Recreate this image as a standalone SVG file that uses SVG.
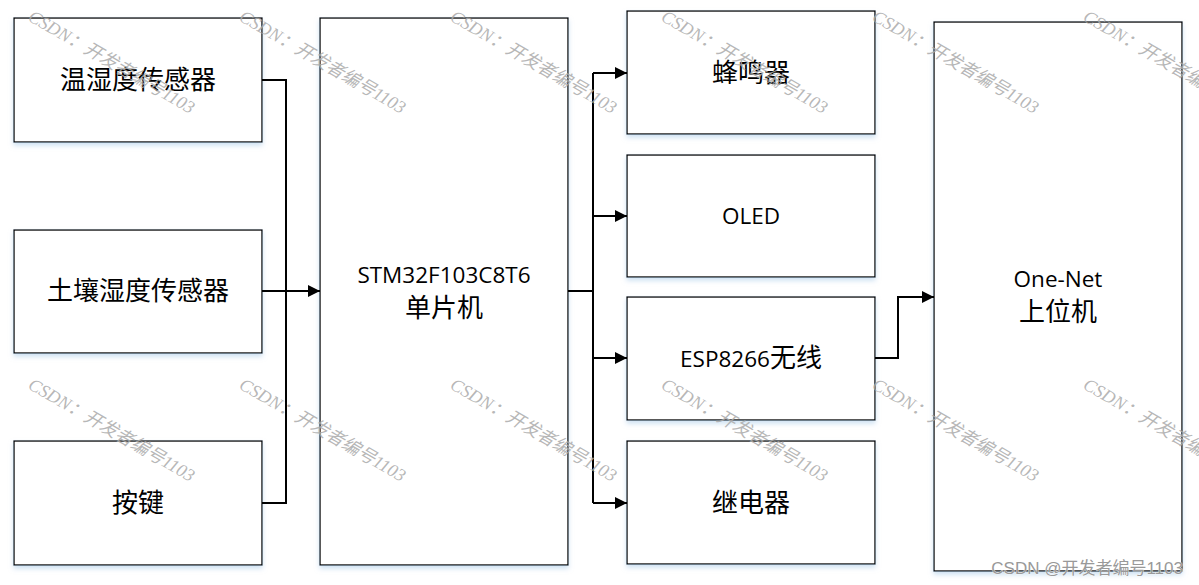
<svg xmlns="http://www.w3.org/2000/svg" width="1199" height="585" viewBox="0 0 1199 585">
<defs>
<filter id="sh" x="-10%" y="-10%" width="120%" height="130%">
<feDropShadow dx="0" dy="3" stdDeviation="2.5" flood-color="#9dc3e6" flood-opacity="0.5"/>
</filter>
<marker id="ar" viewBox="0 0 10 10" refX="10" refY="5" markerWidth="16" markerHeight="12" markerUnits="userSpaceOnUse" orient="auto">
<path d="M0,0 L10,5 L0,10 z" fill="#000"/>
</marker>
<style>
.box{fill:#fff;stroke:#000;stroke-width:1.3;filter:url(#sh)}
.lbl{font-family:"Noto Sans CJK SC","Noto Sans",sans-serif;font-size:26px;fill:#000;text-anchor:middle}
.en{font-family:"Open Sans","Noto Sans CJK SC",sans-serif;font-size:22.5px;fill:#000;text-anchor:middle}
.ln{fill:none;stroke:#000;stroke-width:2}
.wm{font-family:"Liberation Serif","Noto Sans CJK SC",serif;font-style:italic;font-size:18px;fill:#aaa;fill-opacity:0.85}
</style>
</defs>
<rect width="1199" height="585" fill="#fff"/>
<g id="n1"><rect class="box" x="14" y="18" width="248" height="124"/><text class="lbl" x="138" y="89">温湿度传感器</text></g>
<g id="n2"><rect class="box" x="14" y="230" width="248" height="123"/><text class="lbl" x="138" y="300">土壤湿度传感器</text></g>
<g id="n3"><rect class="box" x="14" y="441" width="248" height="124"/><text class="lbl" x="138" y="512">按键</text></g>
<g id="mcu"><rect class="box" x="320" y="18" width="248" height="547"/><text class="en" x="444" y="283">STM32F103C8T6</text><text class="lbl" x="444" y="317">单片机</text></g>
<g id="buz"><rect class="box" x="627" y="11" width="248" height="123"/><text class="lbl" x="751" y="82">蜂鸣器</text></g>
<g id="oled"><rect class="box" x="627" y="155" width="248" height="122"/><text class="en" x="751" y="224">OLED</text></g>
<g id="esp"><rect class="box" x="627" y="297" width="248" height="123"/><text class="lbl" x="751" y="367"><tspan font-family="Open Sans,sans-serif" font-size="22.5">ESP8266</tspan>无线</text></g>
<g id="relay"><rect class="box" x="627" y="441" width="248" height="123"/><text class="lbl" x="751" y="512">继电器</text></g>
<g id="pc"><rect class="box" x="934" y="22" width="248" height="549"/><text class="en" x="1058" y="287">One-Net</text><text class="lbl" x="1058" y="321">上位机</text></g>
<g id="connectors">
<path class="ln" d="M262,80 H286 V503 H262"/>
<path class="ln" d="M262,291 H320" marker-end="url(#ar)"/>
<path class="ln" d="M568,291 H593"/>
<path class="ln" d="M593,73 V503"/>
<path class="ln" d="M593,73 H627" marker-end="url(#ar)"/>
<path class="ln" d="M593,216 H627" marker-end="url(#ar)"/>
<path class="ln" d="M593,358 H627" marker-end="url(#ar)"/>
<path class="ln" d="M593,503 H627" marker-end="url(#ar)"/>
<path class="ln" d="M875,358 H898 V297 H934" marker-end="url(#ar)"/>
</g>
<g id="watermarks">
<text class="wm" transform="translate(27,20) rotate(30)">CSDN：开发者编号1103</text>
<text class="wm" transform="translate(238,20) rotate(30)">CSDN：开发者编号1103</text>
<text class="wm" transform="translate(449,20) rotate(30)">CSDN：开发者编号1103</text>
<text class="wm" transform="translate(660,20) rotate(30)">CSDN：开发者编号1103</text>
<text class="wm" transform="translate(871,20) rotate(30)">CSDN：开发者编号1103</text>
<text class="wm" transform="translate(1082,20) rotate(30)">CSDN：开发者编号1103</text>
<text class="wm" transform="translate(27,388) rotate(30)">CSDN：开发者编号1103</text>
<text class="wm" transform="translate(238,388) rotate(30)">CSDN：开发者编号1103</text>
<text class="wm" transform="translate(449,388) rotate(30)">CSDN：开发者编号1103</text>
<text class="wm" transform="translate(660,388) rotate(30)">CSDN：开发者编号1103</text>
<text class="wm" transform="translate(871,388) rotate(30)">CSDN：开发者编号1103</text>
<text class="wm" transform="translate(1082,388) rotate(30)">CSDN：开发者编号1103</text>
<text x="1183" y="574" text-anchor="end" font-family="Liberation Sans,Noto Sans CJK SC,sans-serif" font-size="17" fill="#999" stroke="#fff" stroke-width="0.6" paint-order="stroke">CSDN @开发者编号1103</text>
</g>
</svg>
